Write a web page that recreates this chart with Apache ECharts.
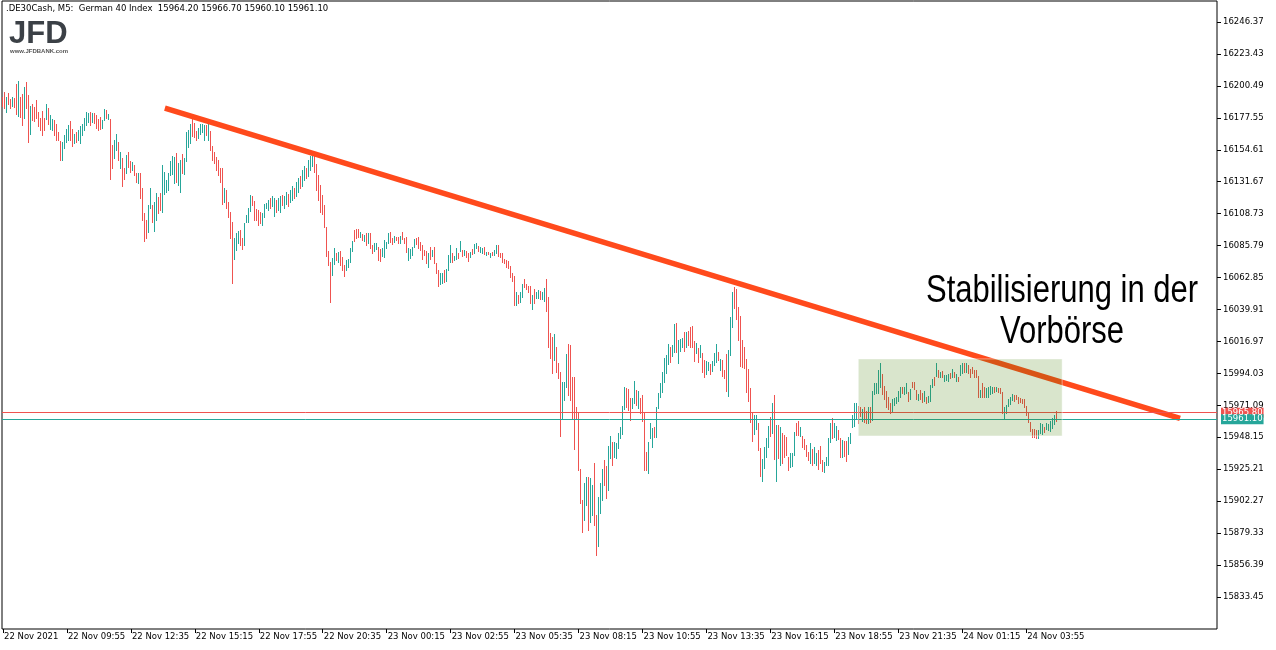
<!DOCTYPE html>
<html>
<head>
<meta charset="utf-8">
<script src="https://cdn.jsdelivr.net/npm/echarts@6.0.0/dist/echarts.min.js"></script>
<style>html,body{margin:0;padding:0;background:#fff}#c{width:1276px;height:650px}</style>
</head>
<body>
<div id="c"></div>
<script>
// ---- data (M5 bars, .DE30Cash) ----
const highs = [
16192.7,16196.3,16192.7,16195.1,16191.1,16192.7,16191.5,16201.6,16204.0,16192.7,
16194.4,16199.9,16203.0,16193.9,16186.3,16187.2,16185.6,16190.3,16182.0,16177.7,
16182.4,16177.2,16187.2,16184.8,16179.6,16176.5,16176.0,16172.9,16167.6,16160.9,
16160.4,16165.2,16169.5,16172.4,16175.3,16169.3,16165.7,16167.6,16168.8,16171.9,
16172.9,16177.2,16181.5,16180.8,16181.5,16181.2,16180.8,16179.6,16176.5,16178.4,
16176.0,16183.6,16183.2,16180.1,16176.5,16158.0,16161.6,16165.7,16160.4,16153.2,
16148.9,16141.3,16150.8,16153.2,16146.5,16145.6,16143.7,16138.2,16137.7,16137.7,
16127.4,16108.9,16104.2,16114.9,16126.9,16114.9,16117.3,16123.3,16120.9,16123.3,
16143.7,16138.9,16132.9,16137.7,16146.5,16150.4,16149.6,16152.0,16144.9,16147.3,
16151.3,16148.4,16167.6,16168.8,16172.9,16176.7,16174.1,16168.1,16170.0,16172.9,
16172.9,16172.4,16172.4,16172.9,16168.1,16157.5,16153.2,16149.6,16147.3,16141.3,
16141.3,16126.9,16125.7,16117.3,16110.1,16103.0,16091.0,16094.6,16096.3,16097.0,
16091.0,16101.8,16107.8,16113.0,16122.1,16121.4,16117.8,16111.8,16111.3,16110.1,
16108.9,16115.4,16116.1,16118.5,16120.0,16121.4,16120.0,16118.5,16120.0,16121.4,
16122.1,16121.4,16124.3,16122.9,16125.7,16128.6,16127.2,16131.5,16134.4,16135.8,
16140.1,16143.0,16141.5,16147.3,16150.1,16153.0,16150.1,16144.4,16136.5,16129.3,
16122.1,16115.0,16099.4,16082.0,16074.3,16076.7,16083.9,16080.8,16081.5,16082.2,
16077.9,16071.9,16075.5,16076.0,16083.9,16089.1,16097.0,16097.7,16097.7,16095.8,
16094.2,16093.4,16095.1,16094.6,16094.6,16086.3,16087.5,16087.9,16084.6,16083.1,
16083.9,16089.9,16088.7,16095.1,16095.8,16091.0,16092.9,16091.8,16092.2,16092.7,
16095.8,16091.0,16091.8,16083.9,16083.1,16085.1,16090.3,16091.0,16092.2,16088.7,
16086.3,16082.7,16082.2,16080.3,16084.6,16082.7,16085.1,16073.6,16068.3,16066.4,
16066.4,16068.3,16068.8,16079.1,16086.3,16080.8,16078.4,16083.9,16080.8,16089.1,
16082.7,16082.7,16082.2,16080.3,16081.5,16083.1,16087.0,16087.5,16085.5,16084.6,
16084.3,16084.6,16081.5,16081.5,16080.3,16081.5,16082.7,16086.3,16086.3,16080.8,
16080.3,16076.0,16075.5,16074.8,16071.2,16065.9,16064.0,16052.7,16050.3,16052.7,
16058.2,16061.6,16058.2,16056.8,16056.8,16050.3,16054.4,16052.7,16053.9,16053.5,
16052.7,16055.1,16061.6,16049.1,16022.8,16020.4,16022.3,16013.2,16001.3,15995.3,
15988.1,15988.1,16008.0,16015.1,16014.4,15991.7,15991.7,15970.1,15965.4,15925.1,
15903.1,15915.1,15919.4,15919.9,15918.7,15913.9,15929.4,15892.3,15905.5,15915.1,
15925.1,15931.8,15927.5,15941.9,15949.1,15945.0,15945.0,15943.8,15951.0,15955.3,
15970.6,15984.5,15983.3,15982.6,15976.1,15976.1,15988.6,15982.1,15981.6,15976.1,
15978.5,15966.5,15937.8,15945.0,15958.7,15954.6,15955.8,15970.1,15979.7,15986.9,
15995.3,16004.9,16007.2,16015.1,16013.2,16014.4,16029.5,16030.0,16018.0,16018.5,
16019.2,16024.0,16024.0,16024.5,16027.6,16028.1,16017.5,16015.6,16012.0,16014.4,
16008.9,16003.7,16003.2,16002.5,16000.8,16003.2,16008.5,16015.1,16009.6,16004.1,
16003.7,15996.5,16008.0,16010.8,16034.8,16052.7,16056.3,16054.4,16041.5,16035.3,
16018.0,16012.8,16004.1,15996.9,15983.3,15965.8,15964.2,15964.2,15958.2,15940.2,
15932.3,15941.4,15947.4,15956.3,15963.0,15973.0,15978.5,15957.0,15957.0,15955.8,
15951.0,15949.8,15948.6,15934.2,15937.1,15937.1,15952.2,15958.2,15960.1,15955.3,
15949.0,15946.6,15942.6,15937.8,15943.8,15939.5,15941.4,15936.6,15939.0,15941.9,
15931.8,15930.6,15933.7,15947.4,15958.6,15961.7,15958.2,15956.2,15953.4,15947.4,
15946.2,15945.7,15945.7,15948.1,15951.0,15964.1,15972.5,15973.0,15970.6,15970.1,
15968.2,15970.1,15967.2,15970.1,15970.1,15981.6,15987.4,15986.9,15996.4,16001.7,
15993.6,15985.0,15981.6,15977.3,15973.0,15975.4,15976.1,15977.3,15981.6,15984.0,
15984.0,15984.5,15986.9,15980.9,15982.6,15988.1,15988.1,15982.1,15979.2,15982.1,
15980.2,15981.6,15977.3,15977.8,15985.7,15989.7,15991.7,16001.7,15996.4,15995.2,
15996.0,15992.8,15992.8,15993.6,15994.0,15996.9,15995.2,15993.6,15991.7,16000.1,
16001.7,16001.7,16001.7,16000.1,15996.9,15998.9,15996.4,15996.4,15992.1,15982.1,
15986.9,15984.5,15983.3,15984.5,15985.0,15984.5,15984.5,15984.5,15983.3,15983.3,
15980.9,15970.1,15971.3,15975.4,15977.3,15979.2,15978.5,15978.5,15977.3,15976.1,
15975.4,15975.4,15970.6,15965.8,15959.4,15953.8,15953.8,15953.3,15953.3,15958.2,
15957.7,15955.8,15958.6,15957.7,15960.1,15961.7,15964.1,15966.7
];
const lows = [
16186.3,16184.4,16182.0,16187.2,16184.4,16186.3,16185.6,16180.1,16179.1,16178.4,
16172.4,16177.2,16184.4,16160.4,16165.9,16176.0,16175.3,16177.2,16171.9,16168.8,
16165.2,16168.8,16176.5,16172.9,16169.5,16168.8,16165.2,16161.6,16161.6,16147.3,
16147.3,16156.1,16160.4,16161.6,16161.6,16157.5,16159.2,16160.4,16161.6,16159.7,
16165.2,16168.8,16172.4,16174.8,16172.4,16174.8,16173.6,16170.0,16168.8,16169.5,
16170.5,16176.0,16177.2,16176.7,16133.6,16141.7,16148.9,16154.4,16147.3,16141.7,
16128.8,16133.6,16137.7,16142.5,16138.9,16140.1,16136.5,16131.7,16131.0,16119.7,
16104.2,16089.3,16091.0,16095.3,16112.5,16103.0,16096.5,16104.2,16108.9,16111.3,
16109.7,16122.6,16124.0,16125.7,16136.5,16137.0,16130.5,16131.7,16129.3,16124.5,
16137.7,16137.0,16146.5,16156.8,16159.2,16164.7,16164.0,16161.4,16162.8,16165.7,
16167.1,16161.6,16165.2,16161.6,16154.4,16147.3,16144.9,16140.1,16136.5,16131.2,
16115.4,16117.3,16113.0,16106.6,16091.5,16059.2,16075.9,16082.6,16087.4,16086.2,
16083.3,16086.2,16103.0,16103.0,16110.6,16114.9,16104.2,16104.2,16100.6,16102.2,
16100.6,16106.6,16112.5,16111.4,16112.8,16114.2,16107.1,16109.9,16111.4,16109.9,
16115.0,16112.8,16115.7,16114.2,16117.1,16118.5,16120.0,16121.4,16124.3,16127.2,
16128.6,16132.9,16134.4,16135.8,16140.1,16143.0,16138.6,16125.7,16118.5,16109.9,
16108.5,16099.1,16078.6,16071.9,16045.6,16064.7,16072.4,16075.5,16074.3,16071.9,
16068.3,16064.2,16068.3,16070.7,16074.3,16082.2,16089.1,16091.0,16092.2,16092.2,
16089.9,16089.4,16086.3,16087.9,16083.9,16080.3,16082.0,16083.1,16075.5,16075.0,
16078.4,16077.9,16083.9,16087.5,16088.7,16087.0,16088.7,16089.9,16087.9,16087.5,
16090.3,16087.5,16081.5,16075.5,16076.7,16079.1,16085.1,16086.7,16083.9,16082.7,
16076.0,16079.1,16073.5,16070.7,16076.0,16078.4,16073.1,16065.9,16056.8,16058.2,
16059.2,16059.9,16060.6,16068.3,16074.3,16074.3,16075.5,16076.0,16076.7,16081.9,
16078.4,16079.1,16077.9,16075.0,16077.4,16079.8,16080.3,16083.9,16082.2,16081.5,
16080.7,16079.8,16079.1,16079.5,16077.9,16079.1,16079.1,16080.3,16078.4,16077.4,
16074.3,16073.1,16070.7,16069.5,16063.5,16060.6,16043.1,16043.1,16044.8,16045.5,
16049.1,16055.8,16054.6,16052.7,16044.3,16040.0,16044.3,16047.9,16048.0,16047.2,
16047.2,16046.3,16039.1,16013.2,16004.9,15994.1,16003.7,15995.3,15990.5,15949.3,
15961.0,15974.9,15984.5,15978.5,15974.9,15961.0,15939.7,15961.0,15924.6,15900.7,
15880.4,15888.7,15899.5,15881.6,15887.5,15892.3,15885.2,15863.6,15870.1,15894.0,
15903.1,15913.9,15904.8,15910.3,15933.0,15928.2,15934.2,15933.0,15940.2,15947.4,
15950.5,15968.2,15970.1,15967.7,15960.6,15968.9,15973.0,15971.3,15968.9,15965.4,
15960.1,15924.6,15924.6,15922.7,15947.4,15941.4,15948.6,15948.6,15968.9,15977.3,
15980.9,15988.1,15994.6,16000.8,16002.5,16006.5,16009.6,16009.6,16001.3,16010.4,
16012.8,16010.4,16013.2,16014.4,16012.8,16013.2,16003.2,16008.9,16002.5,16005.6,
15995.3,15991.2,15993.6,15996.5,15993.6,15996.0,16000.1,16002.5,16003.7,15996.5,
15992.2,15990.5,15981.6,15977.8,16007.2,16027.6,16040.8,16032.9,16018.0,15999.3,
15998.9,15997.7,15980.9,15974.4,15959.4,15945.7,15950.5,15953.9,15939.0,15920.3,
15917.0,15925.8,15934.2,15941.4,15949.1,15951.0,15932.3,15917.0,15933.0,15928.2,
15929.4,15934.2,15935.4,15924.6,15927.0,15927.5,15935.4,15949.8,15949.8,15949.0,
15941.4,15939.5,15934.7,15931.8,15929.9,15928.2,15929.4,15928.2,15925.1,15929.4,
15924.2,15922.9,15928.2,15928.2,15945.0,15947.4,15948.1,15946.2,15946.6,15933.7,
15934.2,15934.7,15931.3,15936.1,15944.2,15955.7,15956.2,15961.7,15958.6,15963.4,
15960.1,15959.4,15958.2,15958.6,15959.4,15960.6,15979.2,15979.7,15979.7,15984.5,
15979.2,15975.4,15970.1,15968.2,15965.8,15966.5,15971.3,15972.5,15974.4,15977.3,
15979.7,15979.2,15979.7,15974.4,15975.4,15984.0,15982.6,15975.4,15974.9,15975.4,
15973.7,15974.4,15973.0,15973.7,15974.4,15984.5,15985.7,15992.2,15991.7,15991.2,
15991.7,15988.8,15989.3,15988.8,15990.5,15991.2,15991.2,15988.8,15988.8,15992.9,
15994.5,15995.3,15995.3,15994.1,15991.7,15994.1,15991.7,15991.2,15977.3,15977.3,
15977.3,15976.8,15977.3,15977.3,15979.2,15980.2,15980.9,15981.6,15980.9,15979.7,
15965.8,15961.0,15965.3,15970.6,15972.0,15974.9,15974.4,15975.4,15973.0,15973.7,
15973.0,15970.1,15964.1,15959.4,15952.9,15948.6,15948.1,15947.4,15947.4,15951.0,
15950.5,15952.2,15953.8,15953.4,15952.9,15954.6,15957.7,15960.1
];
// U = bullish bar, D = bearish bar
const directions = (
"DDUDDUDDUD"+"DUDDUDDDDD"+"DDUDUUDDDD"+"UUUUDDUDUU"+"UUUUDUDDDD"+
"UUDUDDUUDU"+"DDUDDUDDUD"+"DDDUUDUUDD"+"UUUUUUUDUU"+"DUUUUDDDUU"+
"UUDUDDDDDD"+"DUDDDDUUUD"+"DUUUUDDDDD"+"UUUUDUUDUU"+"DUUDUUDUUD"+
"UUDUUUDDDD"+"DDDDDUUDUD"+"DDUUUUDDDU"+"DUDUDDUUDD"+"UUUUDDUDDU"+
"DDDUUUUDDD"+"DDDUDUDDDU"+"UDUUUDUUDU"+"DUDDUDUUDU"+"UDUDUDUUDD"+
"DDDDDDDUDU"+"UDDDDUDUUD"+"UUDDDDUDDD"+"UUUDDDDDDD"+"DUUDUUDDUU"+
"UDDUUDUUUU"+"UUDDDUUDUD"+"DDDUUUDUUU"+"UUUUDUUDUU"+"UDUDDDDUDU"+
"DDUUDUUUDU"+"DDDUUUDDDD"+"DDDDDDUUDD"+"UUUUDUDUDU"+"DDDDUUUDDU"+
"DDDDUDUUDD"+"DUUUUDUUDD"+"UDDUUUUUDD"+"UDDUDUUUUU"+"DDDDDUUUUU"+
"DUUDUDDDUD"+"DUDUUUDUDU"+"DUUUDUDUDU"+"UDUDDDDDDU"+"DDUUUUDUDD"+
"DUUUUUDDDD"+"DDDDDDDDUU"+"UDUUUUUD").split('');

const xTickLabels = ['22 Nov 2021','22 Nov 09:55','22 Nov 12:35','22 Nov 15:15','22 Nov 17:55','22 Nov 20:35',
  '23 Nov 00:15','23 Nov 02:55','23 Nov 05:35','23 Nov 08:15','23 Nov 10:55','23 Nov 13:35',
  '23 Nov 16:15','23 Nov 18:55','23 Nov 21:35','24 Nov 01:15','24 Nov 03:55'];
const yTicks = [15833.45,15856.39,15879.33,15902.27,15925.21,15948.15,15971.09,15994.03,16016.97,
  16039.91,16062.85,16085.79,16108.73,16131.67,16154.61,16177.55,16200.49,16223.43,16246.37];
const askPrice = 15965.80;
const bidPrice = 15961.10;
const trendStart = [81, 16184.5];
const trendEnd = [589, 15961.8];
const zoneX = [428, 530];
const zoneY = [16004.4, 15949.1];
const titleText = '.DE30Cash, M5:  German 40 Index  15964.20 15966.70 15960.10 15961.10';
const noteLines = ['Stabilisierung in der', 'Vorbörse'];

// ---- build ----
const SLOTS = 608;
const cats = Array.from({length: SLOTS}, (_, i) => String(i));
const barData = highs.map((h, i) => [i, h, lows[i], directions[i] === 'U' ? 1 : 0]);
const STEP = 32;
const LAST_TICK = STEP * (xTickLabels.length - 1);
const isTick = (i) => i % STEP === 0 && i <= LAST_TICK;
const FONT = 'DejaVu Sans';
const RED = '#ef5350', TEAL = '#26a69a';

function renderBar(params, api) {
  const i = api.value(0);
  const top = api.coord([i, api.value(1)]);
  const bot = api.coord([i, api.value(2)]);
  const x = Math.floor(top[0]);
  const y0 = Math.round(top[1]);
  const y1 = Math.round(bot[1]);
  return {
    type: 'rect',
    shape: {x: x, y: y0, width: 1, height: Math.max(1, y1 - y0 + 1)},
    style: {fill: api.value(3) ? TEAL : RED}
  };
}

const chart = echarts.init(document.getElementById('c'), null, {renderer: 'canvas'});
chart.setOption({
  animation: false,
  backgroundColor: '#ffffff',
  grid: {left: 2, right: 59, top: 1, bottom: 21, show: true, borderColor: '#000', borderWidth: 1, backgroundColor: 'transparent'},
  xAxis: {
    type: 'category', data: cats, boundaryGap: true,
    axisLine: {show: false},
    axisTick: {show: true, alignWithLabel: true, length: 4, interval: isTick, lineStyle: {color: '#000'}},
    axisLabel: {
      interval: isTick,
      formatter: (v, i) => isTick(i) ? xTickLabels[i / STEP] : '',
      align: 'left', margin: 3, color: '#000', fontFamily: FONT, fontSize: 8.5, padding: [0, 0, 0, 1]
    },
    splitLine: {show: false}
  },
  yAxis: {
    type: 'value', position: 'right', min: 15810.46, max: 16261.45, scale: true,
    axisLine: {show: false},
    axisTick: {show: true, length: 4, inside: false, customValues: yTicks, lineStyle: {color: '#000'}},
    axisLabel: {customValues: yTicks, formatter: (v) => v.toFixed(2), color: '#000', fontFamily: FONT, fontSize: 8.5, margin: 6},
    splitLine: {show: false}
  },
  series: [
    {
      type: 'custom', data: barData, renderItem: renderBar, z: 2,
      encode: {x: 0, y: [1, 2]}, silent: true, clip: true
    },
    {
      type: 'line', data: [trendStart, trendEnd], z: 3, clip: false,
      showSymbol: false, symbol: 'none', silent: true,
      lineStyle: {color: '#ff4a1c', width: 5.5, cap: 'butt'},
      emphasis: {disabled: true},
      markLine: {
        silent: true, symbol: ['none', 'none'], z: 4,
        data: [
          {yAxis: askPrice, lineStyle: {color: RED, width: 1, type: 'solid'},
            label: {show: true, position: 'end', distance: 4, formatter: askPrice.toFixed(2), color: '#fff',
              backgroundColor: RED, padding: [1, 1, 0, 1], fontFamily: FONT, fontSize: 8.5}},
          {yAxis: bidPrice, lineStyle: {color: TEAL, width: 1, type: 'solid'},
            label: {show: true, position: 'end', distance: 4, formatter: bidPrice.toFixed(2), color: '#fff',
              backgroundColor: TEAL, padding: [1, 1, 0, 1], fontFamily: FONT, fontSize: 8.5}}
        ]
      },
      markArea: {
        silent: true, z: 10,
        itemStyle: {color: 'rgba(65,125,0,0.2)', borderColor: 'rgba(255,255,255,0.45)', borderWidth: 1},
        data: [[{xAxis: zoneX[0], yAxis: zoneY[0]}, {xAxis: zoneX[1], yAxis: zoneY[1]}]]
      }
    }
  ],
  graphic: [
    {type: 'text', x: 6, y: 4, z: 20, style: {text: titleText, fill: '#000', font: '8.5px "DejaVu Sans"', textVerticalAlign: 'top'}},
    {type: 'text', x: 9, y: 19, z: 20, style: {text: 'JFD', fill: '#3b4046', font: 'bold 31px "Liberation Sans"', textVerticalAlign: 'top'}},
    {type: 'text', x: 10, y: 48, z: 20, style: {text: 'www.JFDBANK.com', fill: '#555', font: 'bold 6px "Liberation Sans"', textVerticalAlign: 'top'}},
    {type: 'group', x: 1062, y: 0, scaleX: 0.815, z: 20, children: [
      {type: 'text', x: 0, y: 292, style: {text: noteLines[0], fill: '#000', font: '38px "Liberation Sans"', textAlign: 'center', textVerticalAlign: 'middle'}},
      {type: 'text', x: 0, y: 333, style: {text: noteLines[1], fill: '#000', font: '38px "Liberation Sans"', textAlign: 'center', textVerticalAlign: 'middle'}}
    ]}
  ]
});
</script>
</body>
</html>
